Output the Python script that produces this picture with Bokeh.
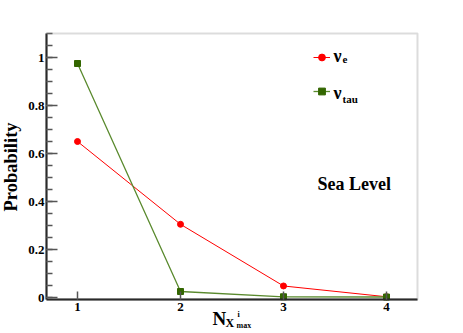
import math
from bokeh.plotting import figure
from bokeh.models import (FixedTicker, CustomJSTickFormatter, Label, Legend, LegendItem,
                          BoxAnnotation)
from bokeh.embed import file_html
from bokeh.resources import INLINE

# ---- data ----
n_xmax = [1, 2, 3, 4]
prob_nu_e = [0.650, 0.305, 0.048, 0.003]
prob_nu_tau = [0.975, 0.025, 0.003, 0.002]
x_ticks = [1, 2, 3, 4]
y_ticks = [0, 0.2, 0.4, 0.6, 0.8, 1.0]
y_minor = [round(0.05 * i, 2) for i in range(0, 23)]

SERIF = "Liberation Serif"
RED = "#ff0000"
GREEN_LINE = "#5a8a2e"
GREEN_MARK = "#336600"

PX_PER_X = 103.0
PX_PER_Y = 240.0
X0, X1 = 0.699, 4.301      # visible (boxed) frame in x
Y0, Y1 = -0.0083, 1.1      # visible (boxed) frame in y
TXT_UP = 4                 # baseline correction for labels (px)


def dx(px):
    return X0 + (px - 46) / PX_PER_X


def dy(py):
    return (297 - py) / PX_PER_Y


# the plotting frame covers the whole canvas except a small top/right border,
# so that texts outside the boxed region are not clipped
p = figure(width=463, height=333, x_range=(dx(0), dx(420)), y_range=(dy(333), dy(30)),
           output_backend="svg", toolbar_location=None,
           min_border_left=0, min_border_right=43, min_border_top=30, min_border_bottom=0)

p.grid.visible = False
p.outline_line_color = None
p.background_fill_color = "white"
p.border_fill_color = "white"

# boxed frame (grey edges)
p.add_layout(BoxAnnotation(left=X0, right=X1, bottom=Y0, top=Y1, fill_alpha=0,
                           line_color="#8c8c8c", line_width=2))

# axes
xa = p.xaxis[0]
xa.fixed_location = Y0
xa.bounds = (X0, X1)
xa.ticker = FixedTicker(ticks=x_ticks, minor_ticks=[])
xa.major_tick_in = 8
xa.major_tick_out = 0
xa.minor_tick_in = 0
xa.minor_tick_out = 0
xa.major_tick_line_color = "#555555"
xa.major_tick_line_width = 1.5
xa.axis_line_color = "black"
xa.axis_line_width = 2
xa.major_label_text_font = SERIF
xa.major_label_text_font_style = "bold"
xa.major_label_text_font_size = "13px"
xa.major_label_text_color = "black"
xa.major_label_standoff = 4

ya = p.yaxis[0]
ya.fixed_location = X0
ya.bounds = (Y0, Y1)
ya.ticker = FixedTicker(ticks=y_ticks, minor_ticks=y_minor)
ya.formatter = CustomJSTickFormatter(code="return String(Math.round(tick*10)/10)")
ya.major_tick_in = 11
ya.major_tick_out = 0
ya.minor_tick_in = 6
ya.minor_tick_out = 0
ya.major_tick_line_color = "#555555"
ya.minor_tick_line_color = "#555555"
ya.major_tick_line_width = 1.5
ya.minor_tick_line_width = 1.5
ya.axis_line_color = "black"
ya.axis_line_width = 2
ya.major_label_text_font = SERIF
ya.major_label_text_font_style = "bold"
ya.major_label_text_font_size = "13px"
ya.major_label_text_color = "black"
ya.major_label_standoff = 2

# series
l_e = p.line(n_xmax, prob_nu_e, line_color=RED, line_width=1)
m_e = p.scatter(n_xmax, prob_nu_e, marker="circle", size=6, fill_color=RED, line_color=RED)
l_t = p.line(n_xmax, prob_nu_tau, line_color=GREEN_LINE, line_width=1.3)
m_t = p.scatter(n_xmax, prob_nu_tau, marker="square", size=6, fill_color=GREEN_MARK, line_color=GREEN_MARK)

# legend: glyph samples (texts added as labels below); bottom-left corner position
legend = Legend(items=[LegendItem(label=" ", renderers=[l_e, m_e]),
                       LegendItem(label=" ", renderers=[l_t, m_t])],
                location=(313, 232), padding=0, margin=0, spacing=14,
                glyph_width=17, glyph_height=20, label_width=0, label_height=0,
                label_standoff=0, label_text_font_size="6px",
                border_line_alpha=0, background_fill_alpha=0)
p.add_layout(legend)


def lab(text, px, py, size, style="bold", baseline="alphabetic", **kw):
    p.add_layout(Label(x=dx(px), y=dy(py - TXT_UP), text=text, text_font=SERIF,
                       text_font_style=style, text_font_size=size, text_color="black",
                       text_baseline=baseline, **kw))


# legend texts
lab("ν", 333, 59, "18px")
lab("e", 342, 63, "11px")
lab("ν", 333, 96, "18px")
lab("tau", 342, 102, "11px")

# annotation
lab("Sea Level", 317, 187, "18px")

# y axis title
lab("Probability", 10, 166.5 + TXT_UP, "18.5px", baseline="middle",
    angle=math.pi / 2, text_align="center")

# x axis title N_{X^i_max}
lab("N", 212, 322, "19px")
lab("X", 225, 326, "12px")
lab("i", 237, 318, "8px")
lab("max", 236, 329, "8px")

open("out.html", "w").write(file_html(p, INLINE))
